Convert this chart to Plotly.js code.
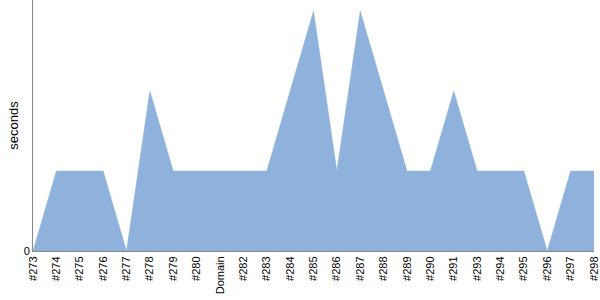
<!DOCTYPE html>
<html><head><meta charset="utf-8">
<script src="https://cdn.plot.ly/plotly-3.0.1.min.js"></script>
<style>html,body{margin:0;padding:0;background:#fff}#c{width:600px;height:300px}</style>
</head><body><div id="c"></div>
<script>
var categories = ["#273","#274","#275","#276","#277","#278","#279","#280","Domain","#282","#283","#284","#285","#286","#287","#288","#289","#290","#291","#293","#294","#295","#296","#297","#298"];
var seconds = [0,1,1,1,0,2,1,1,1,1,1,2,3,1,3,2,1,1,2,1,1,1,0,1,1];
var yTicks = [0];

Plotly.newPlot('c', [{
  x: categories, y: seconds, type: 'scatter', mode: 'lines',
  fill: 'tozeroy', fillcolor: '#8fb2dc',
  line: {color: '#8fb2dc', width: 0.5}, hoverinfo: 'none'
}], {
  width: 600, height: 300,
  margin: {l: 33, r: 6, t: 0, b: 49},
  paper_bgcolor: '#fff', plot_bgcolor: '#fff',
  font: {family: '"Liberation Sans", Arial, sans-serif', size: 11, color: '#000'},
  showlegend: false,
  xaxis: {type: 'category', range: [0, categories.length - 1], tickangle: -90,
    showgrid: false, zeroline: false, showline: true, linecolor: '#888', linewidth: 1,
    ticks: '', tickfont: {size: 11}},
  yaxis: {range: [0, 3.1375], tickvals: yTicks, ticktext: ['0'], showgrid: false, zeroline: false,
    showline: true, linecolor: '#888', linewidth: 1, ticks: '', tickfont: {size: 11},
    title: {text: 'seconds', font: {size: 13}, standoff: 2}}
}, {staticPlot: true});
</script></body></html>
